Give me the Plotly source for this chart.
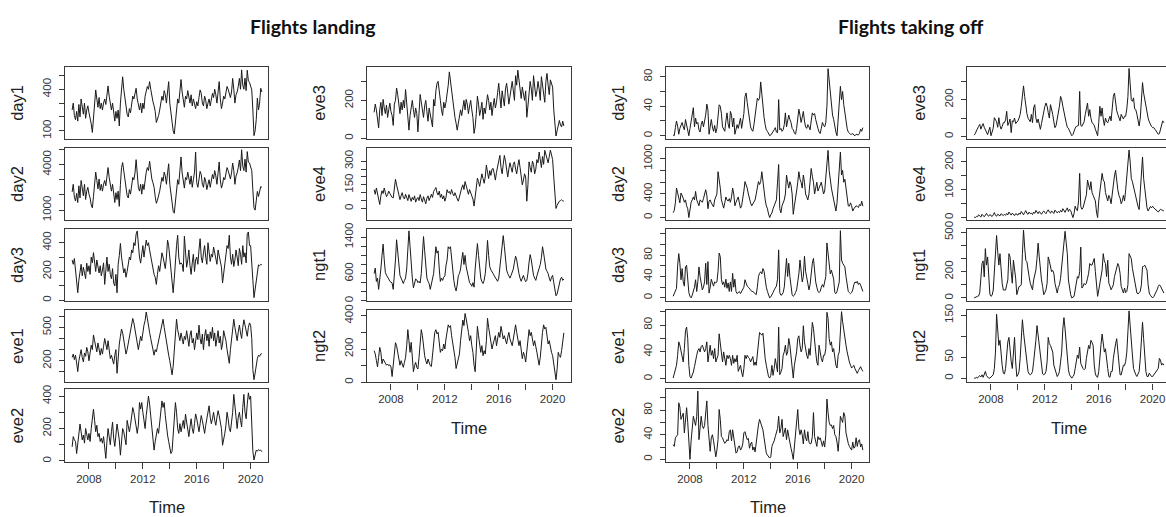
import plotly.graph_objects as go

# ---------------------------------------------------------------------------
# Monthly series, Oct 2006 .. Nov 2020 (170 months). One line per calendar year.
# ---------------------------------------------------------------------------
land_day1 = [
    250, 300, 210,
    180, 240, 170, 290, 200, 330, 260, 220, 300, 190, 250, 280,
    230, 200, 150, 88, 210, 300, 395, 330, 270, 340, 260, 300,
    250, 300, 330, 290, 360, 424, 350, 300, 250, 300, 220, 170,
    240, 190, 250, 135, 300, 420, 490, 400, 330, 270, 220, 200,
    260, 230, 300, 350, 330, 380, 407, 330, 280, 250, 300, 230,
    300, 260, 350, 390, 420, 400, 455, 400, 340, 310, 280, 240,
    160, 180, 210, 250, 300, 350, 320, 390, 360, 300, 380, 455,
    300, 240, 150, 100, 77, 180, 250, 330, 300, 410, 470, 380,
    300, 270, 350, 330, 390, 340, 300, 360, 280, 330, 300, 260,
    310, 280, 340, 395, 370, 300, 280, 350, 320, 260, 300, 330,
    280, 330, 370, 340, 400, 360, 300, 380, 455, 330, 260, 300,
    350, 330, 380, 420, 400, 360, 340, 380, 478, 400, 300, 360,
    380, 420, 478, 400, 540, 430, 400, 480, 390, 537, 460, 450,
    420, 395, 250, 65, 100, 180, 336, 250, 300, 407, 380,
]
land_day2 = [
    2200, 2700, 1850,
    1600, 2100, 1500, 2600, 1800, 2950, 2300, 1950, 2700, 1700, 2250, 2500,
    2050, 1800, 1350, 1150, 1900, 2700, 3500, 2950, 2400, 3050, 2300, 2700,
    2250, 2700, 2950, 2600, 3250, 3800, 3150, 2700, 2250, 2700, 1950, 1500,
    2150, 1700, 2250, 1250, 2700, 3800, 4130, 3600, 3000, 2400, 1950, 1800,
    2350, 2050, 2700, 3150, 3000, 3450, 4320, 3000, 2500, 2250, 2700, 2050,
    2700, 2350, 3150, 3500, 3800, 3600, 4216, 3600, 3050, 2800, 2500, 1900,
    1450, 1650, 1900, 2250, 2700, 3150, 2900, 3500, 3250, 2700, 3450, 4050,
    2700, 2150, 1350, 930, 800, 1600, 2250, 3000, 2700, 3700, 4500, 3450,
    2700, 2450, 3150, 3000, 3500, 3050, 2700, 3250, 2500, 3000, 3500, 4820,
    2800, 2500, 3050, 3550, 3350, 2700, 2500, 3150, 2900, 2350, 2700, 3000,
    2500, 3000, 3350, 3050, 3600, 3250, 2700, 3450, 4170, 3000, 2450, 2700,
    3150, 3000, 3450, 3800, 3600, 3250, 3050, 3450, 4100, 3600, 2700, 3250,
    3450, 3800, 4300, 3600, 4970, 3900, 3600, 4350, 3500, 4850, 4150, 4100,
    3800, 3600, 2300, 1150, 1000, 1600, 2230, 1900, 2300, 2550, 2500,
]
land_day3 = [
    280, 250, 290,
    200, 160, 52, 140, 210, 250, 170, 230, 190, 150, 258, 200,
    240, 180, 300, 260, 331, 250, 200, 280, 230, 190, 240, 170,
    210, 260, 110, 230, 300, 200, 250, 180, 150, 220, 120, 100,
    180, 52, 250, 310, 395, 300, 240, 190, 220, 160, 200, 250,
    300, 280, 350, 330, 400, 380, 460, 482, 380, 300, 258, 330,
    380, 300, 350, 418, 380, 400, 350, 300, 250, 200, 180, 160,
    110, 180, 240, 200, 280, 330, 300, 250, 220, 300, 418, 380,
    300, 200, 100, 52, 150, 300, 380, 452, 300, 250, 260, 250,
    200, 445, 300, 230, 280, 350, 240, 180, 260, 320, 200, 280,
    300, 250, 350, 428, 300, 260, 330, 380, 300, 250, 400, 330,
    270, 320, 300, 370, 330, 290, 250, 350, 310, 260, 230, 121,
    180, 260, 300, 380, 360, 452, 300, 250, 320, 235, 280, 350,
    300, 240, 360, 320, 250, 380, 300, 330, 260, 463, 475, 380,
    380, 281, 140, 18, 80, 144, 200, 246, 240, 250, 246,
]
land_eve1 = [
    230, 260, 210,
    250, 180, 103, 200, 260, 300, 230, 190, 270, 240, 320, 280,
    200, 260, 340, 300, 432, 380, 330, 280, 360, 300, 250, 310,
    260, 330, 400, 350, 300, 380, 280, 220, 250, 200, 170, 250,
    300, 88, 260, 350, 420, 485, 450, 380, 320, 260, 300, 350,
    400, 450, 520, 580, 540, 470, 400, 330, 300, 360, 420, 380,
    480, 520, 560, 638, 580, 500, 456, 400, 350, 280, 250, 300,
    280, 330, 380, 420, 470, 520, 573, 500, 430, 380, 300, 250,
    200, 120, 74, 150, 280, 400, 573, 480, 420, 380, 450, 400,
    350, 420, 390, 470, 380, 330, 430, 470, 360, 400, 300, 380,
    450, 390, 520, 400, 350, 440, 300, 420, 480, 380, 440, 330,
    460, 400, 500, 380, 450, 330, 400, 470, 360, 420, 300, 350,
    470, 430, 380, 300, 250, 177, 300, 400, 480, 573, 500, 420,
    380, 460, 520, 450, 400, 500, 568, 520, 470, 420, 500, 540,
    520, 400, 120, 30, 90, 180, 220, 250, 240, 260, 265,
]
land_eve2 = [
    87, 150, 130,
    120, 46, 110, 140, 228, 180, 130, 160, 110, 200, 150, 130,
    170, 120, 200, 260, 319, 250, 180, 220, 150, 170, 120, 140,
    110, 150, 80, 16, 120, 200, 150, 100, 180, 240, 140, 90,
    160, 228, 180, 130, 36, 120, 200, 180, 130, 100, 250, 200,
    180, 220, 280, 329, 300, 260, 200, 170, 220, 360, 320, 360,
    300, 250, 200, 280, 340, 400, 350, 280, 220, 150, 67, 120,
    160, 200, 170, 250, 300, 370, 330, 360, 280, 200, 160, 120,
    80, 46, 60, 150, 250, 360, 300, 200, 170, 230, 180, 210,
    250, 200, 289, 240, 180, 150, 210, 260, 200, 170, 230, 290,
    260, 210, 180, 230, 280, 250, 200, 170, 220, 260, 300, 340,
    270, 230, 260, 300, 250, 220, 270, 310, 280, 240, 200, 97,
    130, 170, 220, 300, 260, 200, 180, 240, 300, 410, 320, 250,
    200, 270, 300, 250, 210, 330, 410, 300, 260, 350, 420, 380,
    400, 228, 60, 6, 40, 67, 60, 70, 65, 67, 57,
]
land_eve3 = [
    137, 180, 150,
    110, 55, 150, 190, 120, 205, 160, 130, 175, 110, 150, 185,
    140, 120, 68, 180, 200, 265, 230, 170, 130, 190, 150, 200,
    160, 257, 180, 130, 43, 120, 170, 200, 150, 110, 160, 130,
    34, 120, 231, 190, 150, 110, 170, 200, 140, 90, 160, 120,
    90, 60, 205, 170, 250, 290, 300, 260, 200, 150, 120, 190,
    160, 190, 230, 280, 350, 300, 240, 200, 150, 110, 80, 43,
    80, 110, 150, 120, 170, 200, 150, 205, 180, 130, 170, 200,
    150, 110, 26, 60, 130, 222, 180, 120, 150, 190, 100, 160,
    130, 180, 230, 200, 150, 190, 120, 170, 210, 160, 190, 240,
    290, 220, 160, 250, 200, 170, 260, 290, 240, 180, 220, 270,
    300, 250, 200, 330, 280, 359, 300, 240, 210, 270, 230, 200,
    250, 111, 170, 230, 300, 260, 200, 330, 280, 220, 250, 300,
    260, 200, 325, 280, 230, 190, 300, 342, 280, 230, 308, 290,
    270, 150, 60, 12, 40, 80, 94, 70, 60, 90, 65,
]
land_eve4 = [
    119, 90, 130,
    100, 60, 25, 80, 112, 95, 130, 100, 75, 88, 110, 95,
    80, 70, 67, 120, 185, 150, 110, 90, 56, 80, 100, 70,
    60, 90, 75, 50, 88, 65, 45, 70, 55, 80, 40, 60,
    70, 50, 88, 60, 40, 75, 55, 30, 65, 80, 50, 70,
    90, 70, 108, 120, 133, 100, 85, 110, 70, 90, 60, 80,
    46, 70, 119, 100, 108, 90, 120, 95, 80, 100, 70, 60,
    46, 80, 100, 130, 150, 120, 171, 140, 110, 90, 120, 100,
    80, 60, 15, 70, 150, 192, 170, 140, 180, 220, 190, 160,
    200, 275, 230, 190, 240, 210, 250, 254, 220, 180, 230, 270,
    300, 337, 260, 220, 280, 337, 300, 233, 200, 250, 290, 260,
    230, 280, 296, 250, 220, 270, 310, 260, 200, 150, 180, 220,
    200, 46, 150, 296, 260, 230, 300, 280, 220, 250, 310, 290,
    358, 300, 260, 330, 280, 369, 337, 310, 290, 330, 370, 340,
    310, 200, 60, 0, 20, 35, 46, 50, 55, 48, 46,
]
land_ngt1 = [
    600, 720, 426,
    500, 252, 450, 700, 1000, 1247, 900, 620, 565, 500, 480, 430,
    400, 391, 252, 500, 900, 1344, 1100, 800, 560, 500, 420, 380,
    450, 500, 700, 1100, 1539, 1200, 774, 500, 287, 420, 480, 460,
    400, 430, 391, 600, 1000, 1414, 1100, 770, 500, 430, 380, 252,
    350, 500, 600, 900, 1191, 1050, 1100, 700, 426, 500, 450, 520,
    550, 770, 900, 1191, 1150, 1191, 900, 620, 450, 300, 217, 350,
    550, 600, 700, 900, 1066, 800, 1000, 750, 600, 450, 400, 370,
    320, 400, 300, 700, 1000, 1261, 1000, 700, 500, 420, 380, 450,
    600, 900, 1330, 1000, 750, 680, 620, 600, 550, 500, 470, 430,
    500, 700, 900, 1100, 1435, 1200, 850, 680, 600, 540, 500, 560,
    620, 700, 850, 983, 900, 700, 600, 500, 430, 500, 560, 480,
    420, 450, 600, 850, 1017, 900, 700, 560, 500, 450, 550, 620,
    680, 800, 950, 1191, 1050, 880, 700, 650, 600, 500, 430, 520,
    560, 400, 200, 111, 150, 280, 430, 480, 520, 450, 480,
]
land_ngt2 = [
    190, 170, 132,
    93, 150, 210, 180, 112, 140, 130, 120, 103, 110, 100, 105,
    93, 35, 120, 200, 238, 220, 180, 150, 103, 130, 110, 90,
    120, 150, 220, 316, 250, 180, 240, 170, 64, 100, 120, 90,
    80, 150, 250, 316, 280, 200, 160, 130, 110, 140, 120, 100,
    95, 180, 258, 300, 316, 290, 300, 250, 180, 200, 190, 230,
    200, 260, 310, 345, 330, 340, 280, 240, 190, 150, 83, 120,
    150, 170, 250, 300, 374, 340, 413, 380, 320, 300, 250, 280,
    220, 180, 103, 64, 200, 336, 280, 240, 180, 220, 160, 190,
    170, 250, 384, 330, 280, 240, 200, 230, 260, 280, 220, 250,
    300, 270, 336, 300, 260, 280, 250, 230, 270, 300, 260, 240,
    220, 260, 300, 345, 300, 260, 220, 250, 200, 142, 180, 160,
    122, 180, 250, 316, 280, 300, 260, 220, 250, 200, 180, 140,
    103, 150, 250, 300, 345, 320, 330, 280, 230, 250, 200, 180,
    160, 120, 60, 16, 80, 180, 160, 150, 190, 250, 297,
]

off_day1 = [
    1, 0, 11,
    20, 13, 2, 10, 14, 18, 12, 8, 22, 15, 6, 0,
    10, 18, 25, 38, 12, 24, 16, 18, 8, 5, 15, 20,
    12, 18, 28, 43, 35, 2, 15, 22, 12, 6, 14, 4,
    10, 22, 42, 40, 30, 12, 8, 6, 20, 31, 16, 10,
    33, 28, 12, 24, 2, 8, 15, 10, 18, 24, 10, 20,
    30, 53, 58, 45, 35, 20, 12, 8, 6, 15, 25, 35,
    51, 48, 51, 73, 55, 40, 25, 15, 8, 6, 3, 0,
    1, 3, 6, 8, 11, 5, 4, 49, 8, 10, 6, 8,
    15, 31, 12, 20, 28, 22, 18, 10, 8, 4, 2, 10,
    20, 36, 28, 18, 25, 33, 20, 12, 10, 15, 12, 8,
    20, 31, 28, 30, 22, 14, 10, 5, 3, 10, 18, 14,
    12, 18, 40, 91, 76, 55, 36, 28, 22, 10, 5, 0,
    20, 40, 67, 49, 60, 42, 30, 18, 10, 5, 3, 2,
    2, 3, 1, 0, 2, 1, 1, 3, 9, 6, 11,
]
off_day2 = [
    83, 120, 250,
    500, 420, 300, 250, 417, 380, 330, 260, 300, 200, 150, 0,
    180, 260, 300, 350, 300, 444, 300, 250, 200, 300, 280, 260,
    320, 400, 472, 380, 150, 280, 300, 250, 220, 180, 300, 350,
    400, 778, 650, 500, 300, 200, 160, 250, 350, 300, 280, 320,
    260, 350, 500, 400, 200, 260, 300, 350, 250, 160, 200, 300,
    450, 611, 560, 500, 400, 300, 250, 200, 230, 280, 300, 400,
    520, 611, 560, 611, 778, 600, 400, 300, 200, 150, 60, 0,
    50, 80, 150, 200, 250, 300, 600, 900, 150, 80, 200, 250,
    300, 400, 722, 600, 500, 610, 550, 400, 56, 200, 300, 450,
    600, 778, 650, 600, 500, 722, 600, 400, 350, 300, 400, 600,
    833, 700, 600, 400, 500, 600, 450, 500, 550, 600, 500, 400,
    450, 700, 1000, 1139, 800, 600, 500, 400, 300, 200, 111, 250,
    600, 900, 1111, 722, 800, 600, 650, 500, 350, 200, 194, 250,
    200, 111, 150, 180, 200, 190, 170, 222, 200, 278, 194,
]
off_day3 = [
    3, 8, 15,
    18, 60, 83, 65, 34, 55, 30, 22, 58, 61, 30, 10,
    3, 0, 5, 12, 20, 34, 12, 30, 58, 40, 25, 15,
    20, 30, 65, 25, 68, 9, 20, 35, 28, 22, 30, 28,
    30, 50, 84, 77, 35, 25, 30, 20, 35, 18, 28, 12,
    30, 12, 46, 20, 35, 12, 8, 10, 12, 8, 12, 15,
    20, 34, 25, 22, 20, 18, 15, 12, 12, 10, 8, 6,
    20, 40, 46, 49, 45, 55, 50, 30, 20, 12, 5, 0,
    2, 5, 10, 15, 18, 22, 35, 90, 10, 5, 6, 10,
    20, 46, 74, 40, 65, 40, 20, 6, 3, 5, 10, 15,
    30, 45, 71, 55, 30, 40, 78, 50, 35, 20, 15, 25,
    50, 65, 74, 45, 30, 20, 12, 10, 12, 20, 25, 20,
    28, 40, 103, 80, 60, 45, 52, 40, 35, 10, 8, 12,
    25, 30, 126, 71, 65, 60, 58, 40, 28, 12, 10, 8,
    10, 15, 25, 30, 28, 31, 25, 28, 24, 15, 12,
]
off_eve1 = [
    1, 8, 15,
    20, 35, 55, 50, 42, 30, 25, 45, 72, 77, 60, 20,
    3, 1, 5, 10, 18, 30, 35, 42, 45, 40, 48, 50,
    45, 40, 45, 55, 25, 40, 50, 35, 42, 30, 45, 25,
    30, 35, 67, 50, 35, 25, 40, 30, 20, 35, 30, 35,
    30, 20, 35, 23, 30, 25, 35, 11, 15, 20, 10, 3,
    15, 35, 30, 35, 32, 30, 25, 30, 33, 20, 25, 20,
    40, 55, 69, 67, 65, 68, 45, 30, 20, 8, 3, 1,
    5, 20, 5, 15, 30, 20, 10, 77, 6, 10, 15, 35,
    40, 50, 35, 40, 60, 50, 30, 10, 1, 20, 30, 40,
    60, 64, 50, 40, 45, 79, 55, 40, 35, 30, 45, 35,
    60, 84, 75, 50, 40, 25, 20, 50, 35, 30, 25, 35,
    35, 45, 99, 90, 60, 50, 55, 40, 45, 30, 20, 16,
    35, 40, 70, 100, 85, 70, 60, 50, 40, 30, 25, 20,
    16, 18, 20, 15, 11, 8, 12, 15, 18, 14, 11,
]
off_eve2 = [
    24, 21, 35,
    38, 40, 92, 85, 65, 70, 75, 43, 65, 84, 60, 20,
    0, 30, 50, 70, 62, 55, 70, 111, 32, 60, 70, 55,
    50, 55, 70, 95, 55, 25, 13, 35, 40, 30, 20, 4,
    15, 32, 81, 65, 37, 35, 30, 26, 28, 32, 30, 45,
    48, 30, 48, 35, 15, 10, 12, 20, 22, 15, 18, 25,
    43, 45, 38, 32, 34, 18, 25, 28, 15, 20, 12, 30,
    48, 56, 65, 60, 56, 48, 35, 20, 10, 7, 4, 2,
    4, 21, 26, 30, 37, 43, 50, 70, 43, 50, 65, 37,
    45, 51, 32, 48, 37, 25, 18, 10, 0, 20, 40, 55,
    81, 50, 40, 48, 40, 25, 48, 35, 30, 45, 28, 25,
    26, 37, 76, 37, 26, 21, 37, 32, 35, 25, 21, 30,
    20, 40, 98, 76, 60, 55, 56, 50, 55, 40, 37, 28,
    13, 37, 70, 65, 60, 76, 70, 43, 32, 26, 21, 18,
    15, 28, 18, 20, 35, 21, 30, 32, 20, 25, 15,
]
off_eve3 = [
    7, 15, 30,
    48, 55, 66, 40, 57, 70, 50, 38, 21, 10, 30, 50,
    4, 20, 45, 102, 90, 80, 50, 102, 60, 40, 55, 75,
    75, 90, 137, 60, 75, 95, 21, 85, 80, 100, 70, 75,
    85, 100, 120, 164, 230, 275, 218, 160, 125, 100, 90, 80,
    120, 75, 155, 173, 100, 75, 95, 60, 39, 70, 110, 140,
    164, 182, 165, 130, 100, 173, 150, 120, 80, 48, 60, 90,
    120, 165, 218, 200, 165, 130, 90, 75, 50, 45, 30, 12,
    4, 10, 30, 45, 55, 58, 60, 245, 60, 55, 70, 80,
    120, 146, 182, 110, 146, 100, 75, 70, 60, 40, 20, 4,
    75, 164, 110, 155, 95, 60, 100, 80, 75, 90, 110, 85,
    145, 218, 236, 165, 140, 120, 100, 85, 120, 110, 95, 110,
    110, 150, 218, 370, 289, 200, 191, 210, 150, 146, 120, 80,
    57, 100, 180, 293, 236, 200, 150, 120, 100, 80, 65, 55,
    48, 48, 40, 30, 21, 12, 15, 40, 60, 85, 75,
]
off_eve4 = [
    2, 0, 4,
    3, 10, 4, 2, 12, 6, 3, 9, 15, 8, 5, 11,
    7, 4, 10, 18, 8, 5, 12, 9, 6, 14, 10, 7,
    12, 8, 15, 10, 20, 13, 9, 16, 11, 7, 14, 10,
    9, 16, 12, 22, 14, 10, 18, 25, 15, 12, 20, 14,
    16, 11, 20, 15, 26, 18, 14, 22, 17, 12, 19, 24,
    18, 14, 22, 28, 20, 16, 24, 19, 15, 27, 21, 17,
    22, 18, 26, 20, 32, 24, 19, 28, 35, 22, 30, 25,
    10, 0, 15, 41, 30, 25, 60, 159, 40, 30, 35, 50,
    60, 82, 135, 120, 100, 129, 90, 80, 70, 60, 20, 0,
    60, 90, 120, 159, 135, 129, 90, 70, 60, 80, 70, 50,
    90, 110, 150, 170, 129, 100, 80, 70, 50, 60, 80, 60,
    100, 141, 200, 243, 200, 141, 129, 110, 95, 80, 50, 40,
    29, 100, 188, 218, 141, 100, 60, 35, 24, 30, 40, 35,
    41, 35, 30, 28, 24, 20, 25, 30, 28, 26, 24,
]
off_ngt1 = [
    0, 5, 12,
    12, 15, 40, 150, 262, 282, 160, 375, 250, 312, 120, 30,
    12, 20, 60, 180, 300, 475, 350, 250, 337, 200, 110, 60,
    60, 60, 100, 137, 337, 312, 200, 112, 287, 220, 150, 25,
    60, 87, 90, 100, 337, 517, 387, 287, 275, 200, 162, 112,
    80, 62, 137, 180, 212, 300, 417, 312, 200, 137, 87, 25,
    40, 62, 112, 312, 280, 250, 200, 210, 187, 112, 70, 37,
    80, 100, 150, 237, 300, 362, 507, 420, 337, 137, 60, 25,
    0, 5, 12, 60, 112, 162, 150, 200, 387, 75, 87, 110,
    100, 112, 150, 187, 262, 250, 250, 275, 300, 200, 87, 12,
    60, 112, 160, 212, 337, 280, 262, 162, 287, 112, 90, 62,
    80, 100, 162, 200, 237, 262, 240, 187, 87, 60, 37, 75,
    40, 50, 100, 337, 320, 300, 225, 180, 137, 75, 37, 30,
    40, 50, 100, 237, 240, 250, 230, 212, 100, 37, 20, 12,
    0, 10, 25, 45, 62, 87, 100, 90, 75, 50, 37,
]
off_ngt2 = [
    0, 0, 2,
    0, 4, 6, 3, 8, 2, 10, 16, 6, 3, 0, 0,
    2, 4, 8, 23, 62, 152, 101, 78, 90, 55, 30, 12,
    10, 23, 62, 86, 97, 62, 40, 23, 78, 97, 39, 4,
    8, 16, 47, 94, 139, 109, 86, 55, 40, 16, 10, 8,
    10, 16, 39, 62, 90, 125, 100, 80, 62, 23, 10, 8,
    10, 16, 39, 97, 82, 78, 70, 62, 31, 20, 8, 4,
    8, 16, 39, 62, 117, 144, 117, 80, 47, 20, 8, 4,
    0, 4, 8, 23, 39, 55, 47, 74, 35, 28, 23, 20,
    23, 47, 62, 78, 70, 90, 85, 78, 31, 10, 4, 2,
    16, 55, 80, 105, 78, 62, 70, 40, 23, 4, 2, 16,
    16, 47, 70, 82, 94, 62, 23, 8, 8, 23, 31, 30,
    40, 62, 110, 160, 125, 78, 55, 23, 12, 8, 4, 10,
    16, 47, 101, 133, 94, 55, 16, 4, 4, 12, 8, 4,
    4, 8, 12, 16, 20, 23, 47, 43, 31, 35, 31,
]

# Time index of a monthly ts starting Oct 2006 (as fractional years)
n_months = len(land_day1)
time = [2006 + (9 + i) / 12 for i in range(n_months)]

x_ticks = [2008, 2010, 2012, 2014, 2016, 2018, 2020]
x_tick_text = ["2008", "", "2012", "", "2016", "", "2020"]

# ---------------------------------------------------------------------------
# Layout geometry (pixels in a 1166 x 517 canvas)
# ---------------------------------------------------------------------------
W, H = 1166, 517
COLS = {"A": (65, 268), "B": (367, 571), "C": (666, 869), "D": (967, 1166)}
ROWS = [(60, 133), (142, 216), (225, 298), (307, 381), (388, 462)]
X0, X1 = 2006.22, 2021.29
PX_PER_YEAR = 203 / (X1 - X0)

# (column, row, name, values, y-range, y ticks, y tick labels, bottom panel)
panels = [
    ("A", 0, "day1", land_day1, [43, 561], [100, 200, 300, 400, 500], ["100", "", "", "400", ""], False),
    ("A", 1, "day2", land_day2, [334, 5119], [1000, 2000, 3000, 4000, 5000], ["1000", "", "", "4000", ""], False),
    ("A", 2, "day3", land_day3, [-4, 495], [0, 100, 200, 300, 400], ["0", "", "200", "", "400"], False),
    ("A", 3, "eve1", land_eve1, [6, 659], [100, 200, 300, 400, 500, 600], ["", "200", "", "", "500", ""], False),
    ("A", 4, "eve2", land_eve2, [-6, 442], [0, 100, 200, 300, 400], ["0", "", "200", "", "400"], True),
    ("B", 0, "eve3", land_eve3, [-2, 376], [0, 100, 200, 300], ["0", "", "200", ""], False),
    ("B", 1, "eve4", land_eve4, [-75, 387], [0, 50, 100, 150, 200, 250, 300], ["0", "", "", "150", "", "", "300"], False),
    ("B", 2, "ngt1", land_ngt1, [0, 1579], [0, 200, 400, 600, 800, 1000, 1200, 1400], ["0", "", "", "600", "", "", "", "1400"], False),
    ("B", 3, "ngt2", land_ngt2, [0, 436], [0, 100, 200, 300, 400], ["0", "", "200", "", "400"], True),
    ("C", 0, "day1", off_day1, [-4, 93.3], [0, 20, 40, 60, 80], ["0", "", "40", "", "80"], False),
    ("C", 1, "day2", off_day2, [-45, 1188], [0, 200, 400, 600, 800, 1000], ["0", "", "400", "", "", "1000"], False),
    ("C", 2, "day3", off_day3, [-5.5, 129], [0, 20, 40, 60, 80, 100, 120], ["0", "", "40", "", "80", "", ""], False),
    ("C", 3, "eve1", off_eve1, [-5.4, 103], [0, 20, 40, 60, 80, 100], ["0", "", "40", "", "80", ""], False),
    ("C", 4, "eve2", off_eve2, [-4.3, 114], [0, 20, 40, 60, 80, 100], ["0", "", "40", "", "80", ""], True),
    ("D", 0, "eve3", off_eve3, [-12, 378], [0, 100, 200, 300], ["0", "", "200", ""], False),
    ("D", 1, "eve4", off_eve4, [-9.5, 252], [0, 50, 100, 150, 200], ["0", "", "100", "", "200"], False),
    ("D", 2, "ngt1", off_ngt1, [-22, 524], [0, 100, 200, 300, 400, 500], ["0", "", "200", "", "", "500"], False),
    ("D", 3, "ngt2", off_ngt2, [-10, 163], [0, 50, 100, 150], ["0", "50", "", "150"], True),
]

INK = "#1a1a1a"
FRAME = "#3a3a3a"
AXIS_FONT = dict(family="Liberation Sans, Arial, sans-serif", size=11.5, color="#333333")
LABEL_FONT = dict(family="Liberation Sans, Arial, sans-serif", size=16.5, color="#222222")

fig = go.Figure()
layout = {}
annotations = []

for k, (col, row, name, vals, yr, yt, ytt, bottom) in enumerate(panels, start=1):
    left, right = COLS[col]
    top, bot = ROWS[row]
    x_end = X0 + (right - left) / PX_PER_YEAR
    fig.add_trace(go.Scatter(
        x=time, y=vals, mode="lines",
        line=dict(color=INK, width=1),
        xaxis=f"x{k}", yaxis=f"y{k}",
        showlegend=False, hoverinfo="skip",
    ))
    layout[f"xaxis{k}"] = dict(
        domain=[left / W, right / W], range=[X0, x_end], anchor=f"y{k}",
        showline=True, mirror=True, linecolor=FRAME, linewidth=1.4,
        showgrid=False, zeroline=False,
        ticks="outside" if bottom else "", ticklen=6, tickcolor=FRAME, tickwidth=1.2,
        tickvals=x_ticks if bottom else [], ticktext=x_tick_text if bottom else [],
        showticklabels=bottom, tickfont=AXIS_FONT,
    )
    layout[f"yaxis{k}"] = dict(
        domain=[1 - bot / H, 1 - top / H], range=yr, anchor=f"x{k}",
        showline=True, mirror=(col != "D"), linecolor=FRAME, linewidth=1.4,
        showgrid=False, zeroline=False,
        ticks="outside", ticklen=5, tickcolor=FRAME, tickwidth=1.2,
        tickvals=yt, ticktext=ytt, tickangle=-90, tickfont=AXIS_FONT,
        ticklabelstandoff=3,
    )
    # panel name, written vertically to the left of the tick labels
    annotations.append(dict(
        text=name, x=(left - 48) / W, y=1 - (top + bot) / 2 / H,
        xref="paper", yref="paper", showarrow=False, textangle=-90,
        xanchor="center", yanchor="middle", font=LABEL_FONT,
    ))
    if bottom:
        annotations.append(dict(
            text="Time", x=(left + 101.5) / W,
            y=1 - (bot + 46) / H,
            xref="paper", yref="paper", showarrow=False,
            xanchor="center", yanchor="middle", font=LABEL_FONT,
        ))

TITLE_FONT = dict(family="Lato, Carlito, sans-serif", size=19.5, color="#111111")
annotations.append(dict(text="<b>Flights landing</b>", x=312.5 / W, y=1 - 19 / H, xref="paper", yref="paper",
                        showarrow=False, xanchor="center", yanchor="middle", font=TITLE_FONT))
annotations.append(dict(text="<b>Flights taking off</b>", x=911 / W, y=1 - 19 / H, xref="paper", yref="paper",
                        showarrow=False, xanchor="center", yanchor="middle", font=TITLE_FONT))

fig.update_layout(
    width=W, height=H, margin=dict(l=0, r=0, t=0, b=0),
    paper_bgcolor="white", plot_bgcolor="white",
    annotations=annotations, **layout,
)

fig.write_html("out.html")
